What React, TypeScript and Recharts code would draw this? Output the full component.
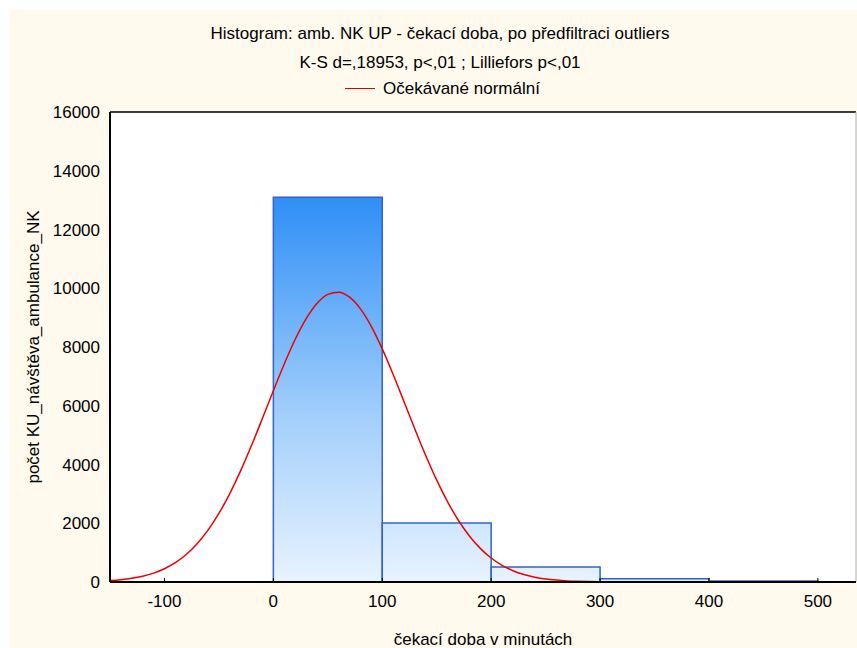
import React from 'react';
import {
  ComposedChart, Line, XAxis, YAxis, CartesianGrid, ReferenceArea, ReferenceLine,
} from 'recharts';

// histogram bins (minutes) and counts
const binStart = [0, 100, 200, 300, 400];
const binEnd = [100, 200, 300, 400, 500];
const binCount = [13100, 2010, 510, 110, 30];

// expected normal curve
const curveX = [
  -150, -140, -130, -120, -110, -100, -90, -80, -70, -60, -50, -40, -30, -20, -10,
  0, 10, 20, 30, 40, 50, 60, 70, 80, 90, 100, 110, 120, 130, 140, 150, 160, 170,
  180, 190, 200, 210, 220, 230, 240, 250, 260, 270, 280, 290, 300, 320, 350, 400, 450, 500, 535,
];
const curveY = [
  47, 78, 125, 197, 301, 451, 658, 938, 1303, 1766, 2334, 3011, 3790, 4653, 5573,
  6512, 7424, 8256, 8958, 9483, 9792, 9865, 9696, 9297, 8697, 7937, 7066, 6137, 5201, 4299, 3467, 2728, 2094,
  1568, 1145, 816, 568, 385, 255, 165, 104, 64, 38, 22, 13, 7, 3, 0, 0, 0, 0, 0,
];

const xTicks = [-100, 0, 100, 200, 300, 400, 500];
const yTicks = [0, 2000, 4000, 6000, 8000, 10000, 12000, 14000, 16000];

const data = curveX.map((x, i) => ({ x, normal: curveY[i] }));

const FONT = '"Liberation Sans", Arial, sans-serif';

export default function App() {
  return (
    <div style={{ position: 'absolute', left: 0, top: 0, width: 857, height: 648, background: '#fff', fontFamily: FONT }}>
      <div style={{ position: 'absolute', left: 10, top: 10, width: 847, height: 638, background: '#fff9ee' }} />
      <div style={{ position: 'absolute', left: 0, width: 880, top: 24, textAlign: 'center', fontSize: 17, lineHeight: '19px', color: '#000' }}>
        Histogram: amb. NK UP - čekací doba, po předfiltraci outliers
      </div>
      <div style={{ position: 'absolute', left: 0, width: 880, top: 53, textAlign: 'center', fontSize: 17, lineHeight: '19px', color: '#000' }}>
        K-S d=,18953, p&lt;,01 ; Lilliefors p&lt;,01
      </div>
      <div style={{ position: 'absolute', left: 345, top: 79, fontSize: 17, lineHeight: '19px', display: 'flex', alignItems: 'center' }}>
        <span style={{ display: 'inline-block', width: 30, height: 0, borderTop: '1.5px solid #e00000', marginRight: 8 }} />
        Očekávané normální
      </div>
      <div style={{ position: 'absolute', left: 0, top: 0 }}>
        <ComposedChart
          width={857}
          height={648}
          data={data}
          margin={{ top: 112, right: 1, bottom: 0, left: 0 }}
        >
          <defs>
            <linearGradient id="barFill" gradientUnits="userSpaceOnUse" x1="0" y1="112" x2="0" y2="582">
              <stop offset="0" stopColor="#1479ee" />
              <stop offset="0.2" stopColor="#3391f6" />
              <stop offset="0.65" stopColor="#a3cffb" />
              <stop offset="1" stopColor="#e8f3fe" />
            </linearGradient>
          </defs>
          <rect x={110} y={112} width={746} height={470} fill="#fff" />
          <CartesianGrid vertical={false} stroke="#d9d9d9" strokeWidth={1.5} />
          <XAxis
            dataKey="x"
            type="number"
            domain={[-150, 535]}
            ticks={xTicks}
            allowDataOverflow
            height={66}
            axisLine={{ stroke: '#000', strokeWidth: 2 }}
            tickLine={{ stroke: '#000' }}
            tickSize={-4}
            tickMargin={17}
            tick={{ fill: '#000', fontSize: 17, fontFamily: FONT }}
            label={{ value: 'čekací doba v minutách', position: 'insideBottom', offset: 3, fill: '#000', fontSize: 17, fontFamily: FONT }}
          />
          <YAxis
            type="number"
            domain={[0, 16000]}
            ticks={yTicks}
            width={110}
            axisLine={{ stroke: '#000', strokeWidth: 2 }}
            tickLine={false}
            tickMargin={4}
            tick={{ fill: '#000', fontSize: 17, fontFamily: FONT }}
            label={{ value: 'počet KU_návštěva_ambulance_NK', angle: -90, position: 'insideLeft', offset: 33, style: { textAnchor: 'middle' }, fill: '#000', fontSize: 17, fontFamily: FONT }}
          />
          <ReferenceLine y={16000} stroke="#000" strokeWidth={1.5} />
          <ReferenceLine x={535} stroke="#b0b0b0" strokeWidth={1} />
          {binStart.map((s, i) => (
            <ReferenceArea
              key={s}
              x1={s}
              x2={binEnd[i]}
              y1={0}
              y2={binCount[i]}
              fill="url(#barFill)"
              fillOpacity={1}
              stroke="#2f63d0"
              strokeWidth={1.5}
              ifOverflow="visible"
            />
          ))}
          <Line
            dataKey="normal"
            type="monotone"
            stroke="#ee0000"
            strokeWidth={1.5}
            dot={false}
            activeDot={false}
            isAnimationActive={false}
          />
        </ComposedChart>
      </div>
    </div>
  );
}
